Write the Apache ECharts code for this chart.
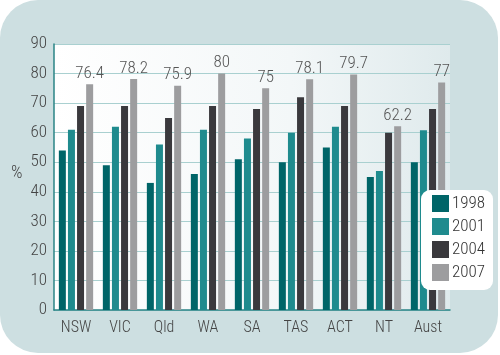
<!DOCTYPE html>
<html><head><meta charset="utf-8">
<script src="https://cdn.jsdelivr.net/npm/echarts@6/dist/echarts.min.js"></script>
<style>html,body{margin:0;padding:0;background:#fff}#c{width:500px;height:355px}</style>
</head><body><div id="c"></div>
<script>
const categories = ['NSW','VIC','Qld','WA','SA','TAS','ACT','NT','Aust'];
const years = ['1998','2001','2004','2007'];
const v1998 = [54, 49, 43, 46, 51, 50, 55, 45, 50];
const v2001 = [61, 62, 56, 61, 58, 60, 62, 47, 60.8];
const v2004 = [69, 69, 65, 69, 68, 72, 69, 60, 68];
const v2007 = [76.4, 78.2, 75.9, 80, 75, 78.1, 79.7, 62.2, 77];
const colors = ['#006568', '#1f8b8e', '#3a393d', '#9d9d9f'];
const FONT = '"Roboto Condensed", "DejaVu Sans Condensed", sans-serif';

const chart = echarts.init(document.getElementById('c'), null, {renderer:'canvas'});
const seriesData = [v1998, v2001, v2004, v2007];
chart.setOption({
  animation: false,
  backgroundColor: '#ffffff',
  graphic: [
    {type:'rect', z:-10, shape:{x:0,y:0,width:498,height:353,r:38}, style:{fill:'#cddfe1'}},
    {type:'rect', z:3, shape:{x:421,y:190,width:72,height:100,r:9}, style:{fill:'#ffffff'}},
    {type:'text', left:11, top:164, style:{text:'%', fontSize:18, fontWeight:300, fontFamily:FONT, fill:'#444'}}
  ],
  color: colors,
  grid: {left:54, right:50, top:44, bottom:45, show:true, borderWidth:0,
    backgroundColor: new echarts.graphic.LinearGradient(0,0,1,0,[{offset:0,color:'#ffffff'},{offset:0.6,color:'#f3f7f8'},{offset:1,color:'#dfeaec'}])},
  legend: {orient:'vertical', left:427, top:190, itemWidth:17, itemHeight:17, itemGap:6, z:10,
    icon:'rect', data: years,
    textStyle:{fontSize:17, fontWeight:300, fontFamily:FONT, color:'#333', padding:[0,0,0,-2]}},
  xAxis: {type:'category', data: categories,
    axisLine:{lineStyle:{color:'#2a8486', width:1.5}}, axisTick:{show:false},
    axisLabel:{interval:0, fontSize:16, fontWeight:300, fontFamily:FONT, color:'#444', margin:10}},
  yAxis: {type:'value', min:0, max:90, interval:10,
    axisLine:{show:true, lineStyle:{color:'#2a8486', width:1.5}}, axisTick:{show:false},
    axisLabel:{fontSize:17, fontWeight:300, fontFamily:FONT, color:'#444', margin:7},
    splitLine:{lineStyle:{color:'#a9d0d0', width:1}}},
  series: years.map((y,i)=>({
    name: y, type:'bar', data: seriesData[i], barWidth:7, barGap:'30%',
    itemStyle:{color: colors[i]},
    label: i===3 ? {show:true, position:'top', distance:2, fontSize:17, fontWeight:300, fontFamily:FONT, color:'#555'} : {show:false}
  }))
});
</script></body></html>
